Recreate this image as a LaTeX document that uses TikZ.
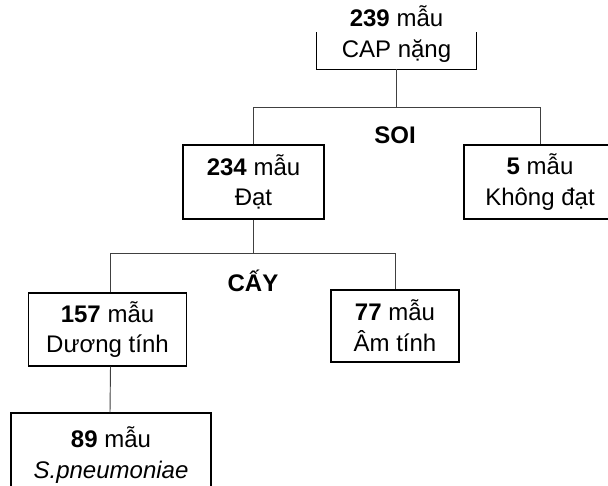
\documentclass[tikz,border=0pt]{standalone}
\usepackage{fontspec}
\setmainfont{Liberation Sans}
\begin{document}
\begin{tikzpicture}[x=0.75pt,y=-0.75pt,
  box/.style={draw=black,line width=0.9pt,align=center,inner sep=0pt,
    font=\fontsize{18}{23}\selectfont},
  plain/.style={align=center,inner sep=0pt,font=\fontsize{18}{23}\selectfont},
  conn/.style={draw=black!75,line width=0.7pt},
  lbl/.style={inner sep=0pt,font=\fontsize{18}{21}\selectfont\bfseries}]
\useasboundingbox (0,0) rectangle (608,486);
\clip (0,0) rectangle (608,486);
% top box (open at top)
\node[plain,minimum width=119.25pt,minimum height=52.5pt] (top) at (396.5,34)
  {\textbf{239} mẫu\\CAP nặng};
\draw[black,line width=0.9pt] (top.south west) ++(0,-37) -- (top.south west)
  -- (top.south east) -- ++(0,-37);
% level 2
\node[box,minimum width=105.75pt,minimum height=55.5pt] (dat) at (253.5,182)
  {\textbf{234} mẫu\\Đạt};
\node[box,minimum width=114pt,minimum height=55.5pt] (kd) at (540,182)
  {\textbf{5} mẫu\\Không đạt};
% level 3
\node[box,minimum width=118.5pt,minimum height=54.75pt] (duong) at (107.5,329.5)
  {\textbf{157} mẫu\\Dương tính};
\node[box,minimum width=96pt,minimum height=54pt] (am) at (395,326)
  {\textbf{77} mẫu\\Âm tính};
% level 4
\node[box,minimum width=150pt,minimum height=63pt] (sp) at (111,455)
  {\textbf{89} mẫu\\\textit{S.pneumoniae}};
% labels
\node[lbl] (soi) at (395,135) {SOI};
\node[lbl] (cay) at (253,281) {CẤY};
% connectors
\draw[conn] (top.south) -- ++(0,38) coordinate (j1);
\draw[conn] (dat.north) |- (j1) -| (kd.north);
\draw[conn] (dat.south) -- ++(0,34) coordinate (j2);
\draw[conn] ([xshift=2.25pt]duong.north) |- (j2) -| (am.north);
\draw[conn] ([xshift=2.25pt]duong.south) -- ([xshift=-0.75pt]sp.north);
\end{tikzpicture}
\end{document}
